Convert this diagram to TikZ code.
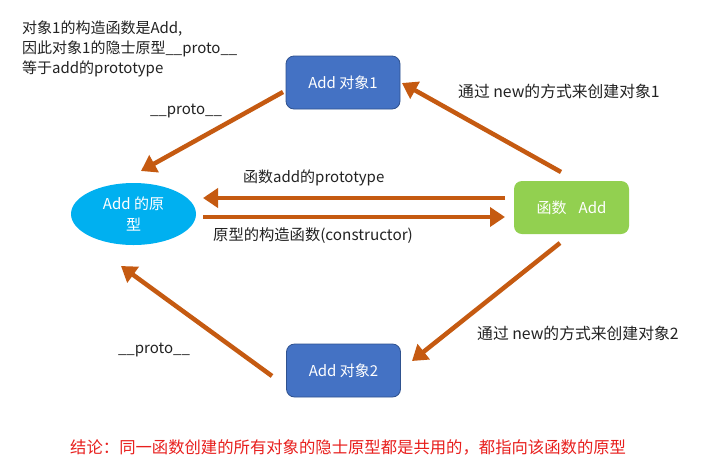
\documentclass[tikz,border=0pt]{standalone}
\usepackage{fontspec}
\setmainfont{Noto Sans CJK SC}
\usetikzlibrary{arrows.meta,shapes.geometric}
\definecolor{objblue}{HTML}{4472C4}
\definecolor{objborder}{HTML}{2F528F}
\definecolor{protoblue}{HTML}{00B0F0}
\definecolor{funcgreen}{HTML}{92D050}
\definecolor{arroworange}{HTML}{C55A11}
\definecolor{txtgray}{HTML}{222222}
\definecolor{concred}{HTML}{E8201E}
\begin{document}
\begin{tikzpicture}[x=1pt,y=-1pt,
  lbl/.style={font=\fontsize{15}{19}\selectfont, text=txtgray, inner sep=0pt},
  objbox/.style={draw=objborder, line width=0.8pt, fill=objblue, rounded corners=8pt,
    minimum width=114pt, minimum height=53pt, text=white, inner sep=0pt,
    font=\fontsize{15}{19}\selectfont},
  funcbox/.style={fill=funcgreen, rounded corners=8pt,
    minimum width=115pt, minimum height=53pt, text=white, inner sep=0pt,
    font=\fontsize{15}{19}\selectfont},
  protoell/.style={ellipse, fill=protoblue, minimum width=125pt, minimum height=62pt,
    text=white, inner sep=0pt, align=center, font=\fontsize{15}{21}\selectfont},
  conn/.style={draw=arroworange, line width=4.5pt,
    -{Triangle[length=15pt,width=19pt]}}
]
\useasboundingbox (0,0) rectangle (716,467);
\fill[white] (0,0) rectangle (716,467);

% nodes
\node[objbox] (obj1) at (343,82.5) {Add 对象1};
\node[objbox] (obj2) at (343.5,370.5) {Add 对象2};
\node[funcbox] (func) at (571.5,207.5) {函数\hspace{0.8em}Add};
\node[protoell] (proto) at (133.5,214) {Add 的原\\型};

% connector ends
\coordinate (a1s) at (283,92);
\coordinate (a1e) at (141,171);
\coordinate (a2s) at (272,376);
\coordinate (a2e) at (121,266);
\coordinate (a3s) at (561,172);
\coordinate (a3e) at (402,83);
\coordinate (a4s) at (560,243);
\coordinate (a4e) at (412,361);
\coordinate (h1s) at (505,198);
\coordinate (h1e) at (203,198);
\coordinate (h2s) at (203,217);
\coordinate (h2e) at (505,217);

% connectors
\draw[conn] (a1s) -- (a1e);
\draw[conn] (a2s) -- (a2e);
\draw[conn] (a3s) -- (a3e);
\draw[conn] (a4s) -- (a4e);
\draw[conn] (h1s) -- (h1e);
\draw[conn] (h2s) -- (h2e);

% labels
\node[lbl] (p1) at (186,111) {\_\_proto\_\_};
\node[lbl] (p2) at (154,350) {\_\_proto\_\_};
\node[lbl, anchor=west, font=\fontsize{15.8}{19}\selectfont] (n1) at (458,91) {通过 new的方式来创建对象1};
\node[lbl, anchor=west, font=\fontsize{15.8}{19}\selectfont] (n2) at (477,333) {通过 new的方式来创建对象2};
\node[lbl, anchor=west] (pt) at (243,178) {函数add的prototype};
\node[lbl, anchor=west, font=\fontsize{15.3}{19}\selectfont] (ct) at (213,236) {原型的构造函数(constructor)};
\node[lbl, anchor=north west, align=left, font=\fontsize{15}{20}\selectfont] (note) at (22,21)
  {对象1的构造函数是Add,\\因此对象1的隐士原型\_\_proto\_\_\\等于add的prototype};
\node[lbl, anchor=west, text=concred, font=\fontsize{16.35}{20}\selectfont] (conc) at (70,447)
  {结论：同一函数创建的所有对象的隐士原型都是共用的，都指向该函数的原型};
\end{tikzpicture}
\end{document}
